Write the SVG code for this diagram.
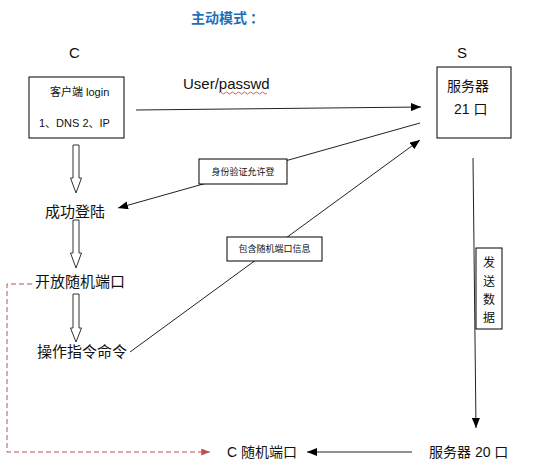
<svg xmlns="http://www.w3.org/2000/svg" width="535" height="465" viewBox="0 0 535 465">
<defs>
<style>
text{font-family:"Liberation Sans","Noto Sans CJK SC",sans-serif;fill:#111}
.box{fill:#fff;stroke:#000;stroke-width:1}
.ln{stroke:#222;stroke-width:1;fill:none}
.hol{fill:#fff;stroke:#333;stroke-width:1}
.lbl{font-size:15px}
.sm{font-size:9px}
</style>
<marker id="ah" viewBox="0 0 10 8" refX="10" refY="4" markerWidth="10" markerHeight="8" markerUnits="userSpaceOnUse" orient="auto"><path d="M0,0L10,4L0,8z" fill="#000"/></marker>
<marker id="ahr" viewBox="0 0 10 8" refX="10" refY="4" markerWidth="9" markerHeight="7" markerUnits="userSpaceOnUse" orient="auto"><path d="M0,0L10,4L0,8z" fill="#c0504d"/></marker>
</defs>
<rect width="535" height="465" fill="#fff"/>
<text x="191" y="23" style="font-size:14px;font-weight:bold;fill:#1f6fb8">主动模式<tspan dx="3">：</tspan></text>
<text x="69" y="58" style="font-size:15px">C</text>
<text x="457" y="58" style="font-size:15px">S</text>

<g id="connectors">
<line class="ln" x1="136" y1="110" x2="421" y2="107" marker-end="url(#ah)"/>
<line class="ln" x1="420" y1="123" x2="118" y2="208" marker-end="url(#ah)"/>
<line class="ln" x1="130" y1="352" x2="420" y2="140" marker-end="url(#ah)"/>
<line class="ln" x1="473" y1="158" x2="476" y2="428" marker-end="url(#ah)"/>
<line class="ln" x1="412" y1="452" x2="307" y2="452" marker-end="url(#ah)"/>
<path d="M32,284H7V452H210" fill="none" stroke="#c0504d" stroke-width="1" stroke-dasharray="5,3" marker-end="url(#ahr)"/>
<polygon class="hol" points="73,145 79,145 79,178 81.5,178 76,193 70.5,178 73,178"/>
<polygon class="hol" points="73,220 79,220 79,253 81.5,253 76,268 70.5,253 73,253"/>
<polygon class="hol" points="73,294 79,294 79,328 81.5,328 76,342 70.5,328 73,328"/>
<path d="M219,93q1.5,-2 3,0t3,0t3,0t3,0t3,0t3,0t3,0t3,0t3,0t3,0t3,0t3,0t3,0t3,0t3,0t3,0" fill="none" stroke="#e03030" stroke-width="0.8"/>
<text x="183" y="89" style="font-size:15px">User/passwd</text>
</g>

<g id="client">
<rect class="box" x="29" y="77" width="95" height="61"/>
<text x="50" y="96" style="font-size:11px">客户端 login</text>
<text x="39" y="127" style="font-size:11px">1、DNS 2、IP</text>
</g>
<g id="server21">
<rect class="box" x="437" y="67" width="74" height="71"/>
<text x="447" y="91" style="font-size:14px">服务器</text>
<text x="454" y="114" style="font-size:14px">21 口</text>
</g>
<g id="label-auth">
<rect class="box" x="199" y="159" width="88" height="25"/>
<text x="243" y="175" class="sm" text-anchor="middle">身份验证允许登</text>
</g>
<g id="label-port">
<rect class="box" x="227" y="237" width="95" height="24"/>
<text x="274.5" y="252" class="sm" text-anchor="middle">包含随机端口信息</text>
</g>
<g id="label-send">
<rect class="box" x="476" y="248" width="26" height="81"/>
<text x="489" y="267" style="font-size:12px" text-anchor="middle">发</text>
<text x="489" y="286" style="font-size:12px" text-anchor="middle">送</text>
<text x="489" y="304" style="font-size:12px" text-anchor="middle">数</text>
<text x="489" y="322" style="font-size:12px" text-anchor="middle">据</text>
</g>
<g id="login-ok"><text x="45" y="217" class="lbl">成功登陆</text></g>
<g id="open-port"><text x="35" y="287" class="lbl">开放随机端口</text></g>
<g id="command"><text x="37" y="357" class="lbl">操作指令命令</text></g>
<g id="c-port"><text x="227" y="457" style="font-size:14px">C 随机端口</text></g>
<g id="server20"><text x="429" y="457" style="font-size:14px">服务器 20 口</text></g>
</svg>
